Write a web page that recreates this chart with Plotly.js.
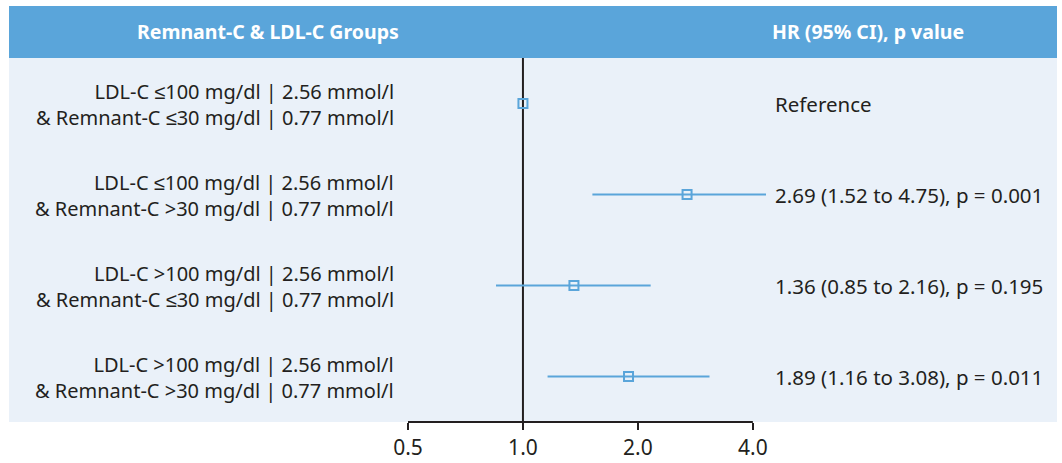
<!DOCTYPE html>
<html>
<head>
<meta charset="utf-8">
<script src="https://cdn.plot.ly/plotly-3.0.1.min.js"></script>
<style>html,body{margin:0;padding:0;background:#fff;}#chart{width:1062px;height:463px;}</style>
</head>
<body>
<div id="chart"></div>
<script>
const groupLabels = [
  "LDL-C ≤100 mg/dl | 2.56 mmol/l<br>& Remnant-C ≤30 mg/dl | 0.77 mmol/l",
  "LDL-C ≤100 mg/dl | 2.56 mmol/l<br>& Remnant-C >30 mg/dl | 0.77 mmol/l",
  "LDL-C >100 mg/dl | 2.56 mmol/l<br>& Remnant-C ≤30 mg/dl | 0.77 mmol/l",
  "LDL-C >100 mg/dl | 2.56 mmol/l<br>& Remnant-C >30 mg/dl | 0.77 mmol/l"
];
const hr = [1.0, 2.69, 1.36, 1.89];
const ciLow = [1.0, 1.52, 0.85, 1.16];
const ciHigh = [1.0, 4.75, 2.16, 3.08];
const resultText = [
  "Reference",
  "2.69 (1.52 to 4.75), p = 0.001",
  "1.36 (0.85 to 2.16), p = 0.195",
  "1.89 (1.16 to 3.08), p = 0.011"
];
const tickVals = [0.5, 1, 2, 4];
const tickText = ["0.5", "1.0", "2.0", "4.0"];
const headerLeft = "Remnant-C & LDL-C Groups";
const headerRight = "HR (95% CI), p value";

const blue = "#5AA5DA";
const ink = "#231F20";
const font = "Noto Sans, sans-serif";

const rows = hr.map((_, i) => i);

const trace = {
  type: "scatter",
  mode: "markers",
  x: hr,
  y: rows,
  marker: {symbol: "square-open", size: 9, color: blue, line: {width: 2, color: blue}},
  error_x: {
    type: "data", symmetric: false,
    array: hr.map((v, i) => ciHigh[i] - v),
    arrayminus: hr.map((v, i) => v - ciLow[i]),
    color: blue, thickness: 2, width: 0
  },
  cliponaxis: true,
  hoverinfo: "skip"
};

// pixel helpers (plot area: x 408..766, y 58..422)
const L = 408, R = 766, T = 58, B = 422;
const px = v => (v - L) / (R - L);
const py = v => (B - v) / (B - T);
const unitPx = (B - T) / 4;

const annotations = [];
groupLabels.forEach((t, i) => annotations.push({
  xref: "paper", yref: "y", x: px(395), y: rows[i] + 1 / unitPx, xanchor: "right", yanchor: "middle",
  align: "right", text: t, showarrow: false, borderpad: 0,
  font: {family: font, size: 20, color: ink}
}));
resultText.forEach((t, i) => annotations.push({
  xref: "paper", yref: "y", x: px(773), y: rows[i], xanchor: "left", yanchor: "middle",
  align: "left", text: t, showarrow: false, font: {family: font, size: 20.5, color: ink}
}));
annotations.push({xref: "paper", yref: "paper", x: px(268), y: py(31), xanchor: "center", yanchor: "middle",
  text: "<b>" + headerLeft + "</b>", showarrow: false, font: {family: font, size: 19.5, color: "#ffffff"}});
annotations.push({xref: "paper", yref: "paper", x: px(868), y: py(31), xanchor: "center", yanchor: "middle",
  text: "<b>" + headerRight + "</b>", showarrow: false, font: {family: font, size: 19.5, color: "#ffffff"}});

const layout = {
  width: 1062, height: 463,
  margin: {l: L, r: 1062 - R, t: T, b: 463 - B, pad: 0},
  paper_bgcolor: "#ffffff",
  plot_bgcolor: "rgba(0,0,0,0)",
  showlegend: false,
  xaxis: {
    type: "log", range: [Math.log10(0.5), Math.log10(4.33)],
    tickvals: tickVals, ticktext: tickText,
    ticks: "outside", ticklen: 7, tickwidth: 2, tickcolor: ink,
    showline: false, zeroline: false, showgrid: false,
    tickfont: {family: font, size: 21, color: ink}, fixedrange: true
  },
  yaxis: {
    range: [3.5, -0.5], showticklabels: false, ticks: "", showgrid: false,
    zeroline: false, showline: false, fixedrange: true
  },
  shapes: [
    {type: "rect", xref: "paper", yref: "paper", x0: px(9), x1: px(1057), y0: 0, y1: 1,
      fillcolor: "#EAF1F9", line: {width: 0}, layer: "below"},
    {type: "rect", xref: "paper", yref: "paper", x0: px(9), x1: px(1057), y0: 1, y1: py(6),
      fillcolor: blue, line: {width: 0}, layer: "below"},
    {type: "line", xref: "x", yref: "paper", x0: 1, x1: 1, y0: 0, y1: 1,
      line: {color: ink, width: 2}, layer: "below"},
    {type: "line", xref: "x", yref: "paper", x0: 0.5, x1: 4, y0: 0, y1: 0,
      line: {color: ink, width: 2}, layer: "above"}
  ],
  annotations: annotations
};

Plotly.newPlot("chart", [trace], layout, {displayModeBar: false, staticPlot: true});
</script>
</body>
</html>
